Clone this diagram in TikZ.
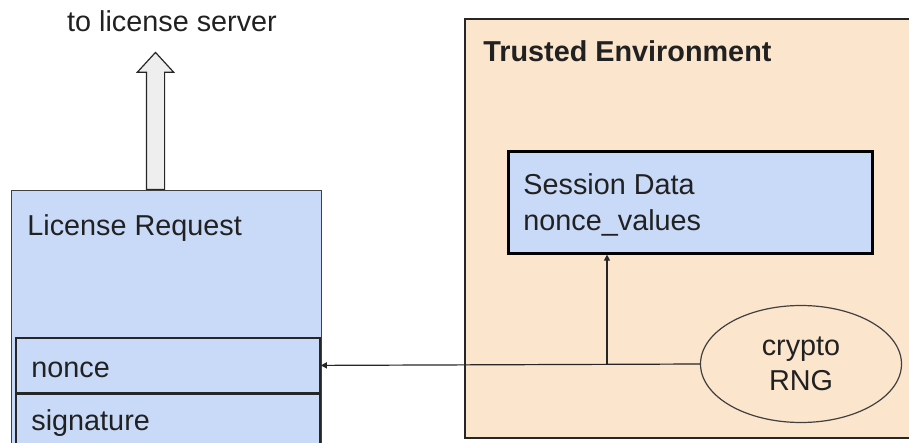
\documentclass[tikz,border=0pt]{standalone}
\usepackage{fontspec}
\setmainfont{Liberation Sans}
\usetikzlibrary{shapes,arrows.meta,positioning}

\definecolor{boxblue}{HTML}{C9DAF8}
\definecolor{envpeach}{HTML}{FCE5CD}
\definecolor{upgray}{HTML}{EEEEEE}

\begin{document}
\begin{tikzpicture}[x=0.5pt, y=-0.5pt,
		every node/.style={font=\fontsize{14.4}{17.2}\selectfont, text=black!87},
		field/.style={rectangle, draw=black!85, line width=0.9pt, fill=boxblue, anchor=north west, minimum width=152pt, inner sep=0pt},
		env/.style={rectangle, draw=black!85, line width=1pt, fill=envpeach, anchor=north west, inner sep=0pt},
		txt/.style={anchor=base west, inner sep=0pt},
		link/.style={-{Triangle[length=3pt,width=3pt]}, line width=0.6pt, draw=black!85}
	]
	\useasboundingbox (0,0) rectangle (909,443);
	\clip (0,0) rectangle (909,443);

	% License request
	\node[field, draw=black!75, line width=0.7pt, minimum width=155pt, minimum height=140pt] (req) at (11,190) {};
	\node[txt] (reqtxt) at (27,235) {License Request};
	\node[field, minimum height=27.5pt] (nonce) at (15,337) {};
	\node[txt] (noncetxt) at (31,377) {nonce};
	\node[field, minimum height=40pt] (sig) at (15,393) {};
	\node[txt] (sigtxt) at (31,430) {signature};

	% Outgoing request
	\node[single arrow, draw=black!85, fill=upgray, line width=0.6pt, shape border rotate=90,
		minimum height=68.5pt, minimum width=17.5pt, single arrow head extend=4.5pt,
		single arrow tip angle=85, inner sep=4.25pt, anchor=tail] (up) at (155.5,190) {};
	\node[anchor=base] (srv) at (172,32) {to license server};

	% Trusted environment
	\node[env, minimum width=235pt, minimum height=209.5pt] (te) at (464,18) {};
	\node[txt] (tetxt) at (483,62) {\bfseries Trusted Environment};
	\node[field, draw=black, line width=1.3pt, minimum width=182pt, minimum height=51pt] (sd) at (507,150) {};
	\node[txt] (sdtxt) at (523,195) {Session Data};
	\node[txt] (nvtxt) at (523,230) {nonce\_values};
	\node[ellipse, draw=black!75, line width=0.6pt, minimum width=100.5pt, minimum height=58.5pt,
		align=center, inner sep=0pt] (rng) at (801,364) {crypto\\RNG};

	% Connections
	\coordinate (split) at (607,364);
	\draw[link] (rng.west) -- (nonce.east);
	\draw[link] (split) -- (split |- sd.south);

\end{tikzpicture}
\end{document}
